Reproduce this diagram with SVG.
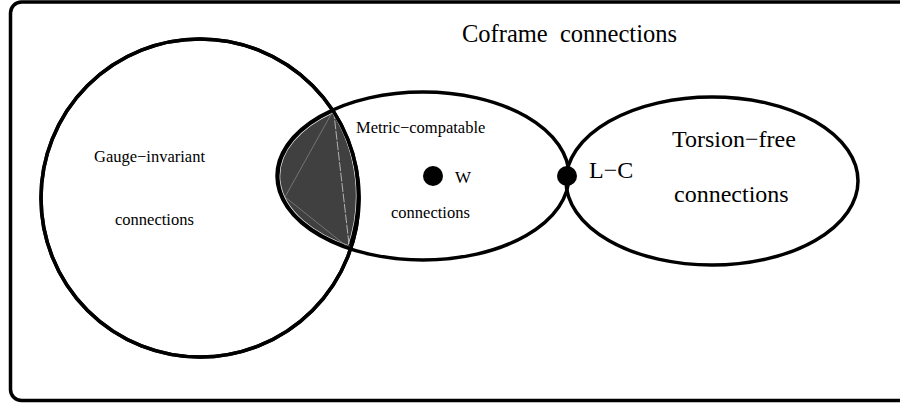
<svg xmlns="http://www.w3.org/2000/svg" width="900" height="404" viewBox="0 0 900 404">
<style>
.ln{fill:none;stroke:#000;stroke-width:3.5}
.t{font-family:"Liberation Serif","Times New Roman",serif;fill:#000}
.s{font-size:16.5px}
.b{font-size:24px}
</style>
<defs>
<path id="lens" d="M333.5,110 A146,84 0 0 0 349.5,248.5 A159,159 0 0 0 333.5,110 Z"/>
<clipPath id="lc"><use href="#lens"/></clipPath>
</defs>
<rect width="900" height="404" fill="#fff"/>
<rect x="10.5" y="2" width="910" height="398.5" rx="11" class="ln"/>
<g id="gauge">
<ellipse cx="200" cy="198" rx="159" ry="159" class="ln"/>
<text class="t s" x="94" y="162">Gauge−invariant</text>
<text class="t s" x="115" y="225">connections</text>
</g>
<g id="lens-region">
<use href="#lens" fill="#404040"/>
<g clip-path="url(#lc)">
<use href="#lens" fill="none" stroke="#e8e8e8" stroke-width="5.4"/>
<use href="#lens" fill="none" stroke="#000" stroke-width="4"/>
</g>
<path d="M333.5,110 L285,197 L349.5,248.5" fill="none" stroke="#8a8a8a" stroke-width="0.7"/>
<path d="M333.5,110 L349.5,248.5" fill="none" stroke="#cfcfcf" stroke-width="0.8" stroke-dasharray="9,1.5"/>
</g>
<g id="metric">
<ellipse cx="423" cy="176" rx="146" ry="84" class="ln"/>
<text class="t s" x="356" y="133">Metric−compatable</text>
<text class="t s" x="391" y="218">connections</text>
</g>
<g id="torsion">
<ellipse cx="712" cy="181" rx="146" ry="84" class="ln"/>
<text class="t b" x="672" y="147">Torsion−free</text>
<text class="t b" x="674" y="202">connections</text>
</g>
<g id="gauge-outline">
<ellipse cx="200" cy="198" rx="159" ry="159" class="ln"/>
</g>
<g id="W">
<circle cx="433" cy="176" r="10" fill="#000"/>
<text class="t" font-size="17" x="455" y="183">W</text>
</g>
<g id="LC">
<circle cx="567" cy="176" r="10" fill="#000"/>
<text class="t b" x="589" y="178">L−C</text>
</g>
<g id="title">
<text class="t" font-size="24.5" x="462" y="42" xml:space="preserve">Coframe  connections</text>
</g>
<g id="connectors"/>
</svg>
